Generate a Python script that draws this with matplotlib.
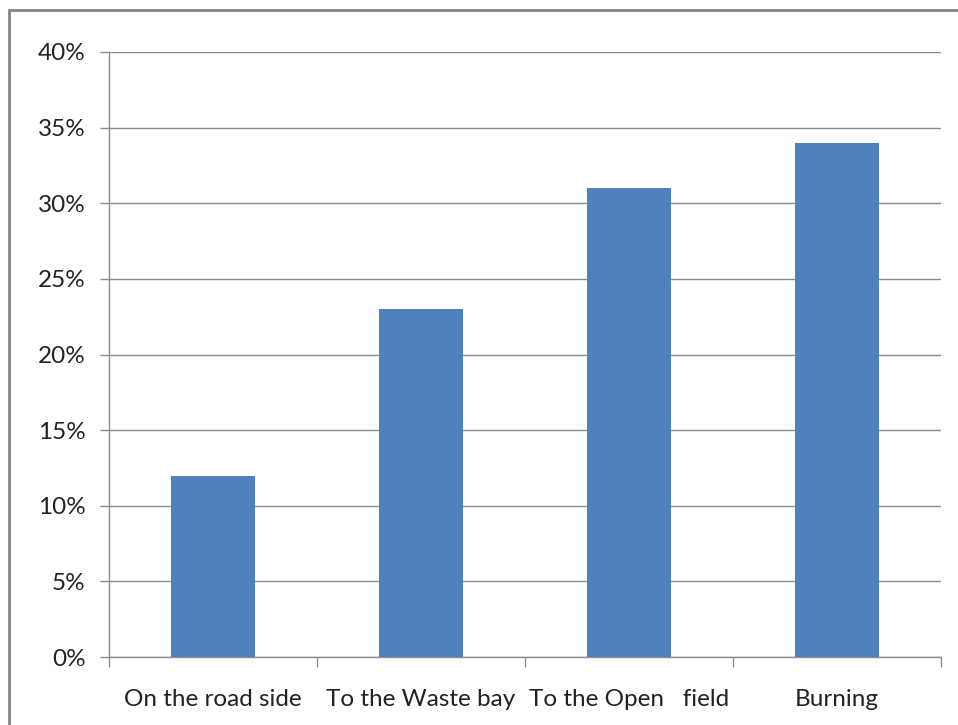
import matplotlib.pyplot as plt
from matplotlib.patches import Rectangle
from matplotlib.ticker import FuncFormatter, MultipleLocator, FixedLocator

categories = ["On the road side", "To the Waste bay", "To the Open   field", "Burning"]
shares = [0.12, 0.23, 0.31, 0.34]

W, H = 958, 725
fig = plt.figure(figsize=(W / 100, H / 100), dpi=100)
plt.rcParams['font.family'] = ['Lato', 'DejaVu Sans']

# outer chart frame, running off the right and bottom edges
fig.patches.append(Rectangle((8.5 / W, -0.05), 1.0, 1 - 9.5 / H + 0.05,
                             transform=fig.transFigure, fill=False,
                             edgecolor='#868686', linewidth=2))

ax = fig.add_axes([109 / W, 1 - 657 / H, (941 - 109) / W, (657 - 52) / H])
x = range(len(categories))
ax.bar(x, shares, width=0.4, color='#4F81BD', zorder=3)

ax.set_xlim(-0.5, len(categories) - 0.5)
ax.set_ylim(0, 0.40)
ax.yaxis.set_major_locator(MultipleLocator(0.05))
ax.yaxis.set_major_formatter(FuncFormatter(lambda v, p: f"{v * 100:.0f}%"))
ax.grid(axis='y', color='#8c8c8c', linewidth=1, zorder=0)

ax.set_xticks(list(x))
ax.set_xticklabels(categories, fontsize=17.5, color='#222222')
ax.tick_params(axis='x', length=0, pad=23)
ax.xaxis.set_minor_locator(FixedLocator([i - 0.5 for i in range(len(categories) + 1)]))
ax.tick_params(axis='x', which='minor', length=7, color='#8c8c8c', width=1)
ax.tick_params(axis='y', labelsize=17.5, labelcolor='#222222', length=6.5,
               color='#8c8c8c', width=1, pad=10.5)

for side in ['top', 'right']:
    ax.spines[side].set_visible(False)
for side in ['left', 'bottom']:
    ax.spines[side].set_color('#8c8c8c')
    ax.spines[side].set_linewidth(1)

fig.savefig('out.png', dpi=100)
